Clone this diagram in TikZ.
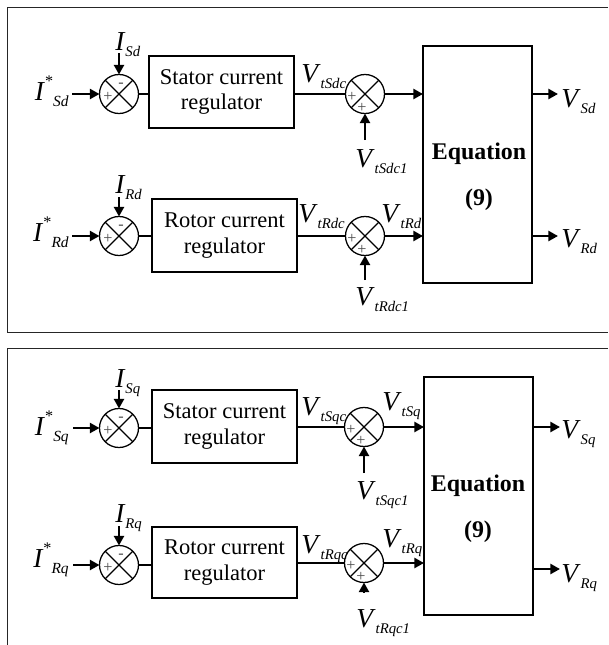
\documentclass[tikz,border=0pt]{standalone}
\usepackage{fontspec}
\setmainfont{Liberation Serif}
\usetikzlibrary{arrows.meta}
\newcommand{\sgl}[2]{\textit{#1}\raisebox{-0.25em}{\fontsize{10.5}{11}\selectfont\textit{#2}}}
\newcommand{\sgls}[2]{\textit{#1}\raisebox{0.5em}{\fontsize{11.5}{12}\selectfont *}\raisebox{-0.25em}{\fontsize{11}{12}\selectfont\textit{#2}}}

\begin{document}
\begin{tikzpicture}[
    sumj/.style={circle, draw, line width=0.9pt, minimum size=0.975cm, inner sep=0pt, outer sep=0pt},
    blk/.style={draw, line width=1pt, inner sep=0pt, outer sep=0pt, align=center, font=\fontsize{16}{18}\selectfont},
    eqtxt/.style={inner sep=0pt, align=center, font=\fontsize{17}{33}\selectfont\bfseries},
    sigarrow/.style={line width=1.6pt, -{Triangle[length=0.24cm, width=0.25cm]}},
    wire/.style={line width=0.9pt},
    lbl/.style={inner sep=0pt, font=\fontsize{19.5}{22}\selectfont},
    sgn/.style={inner sep=0pt, text=black!70, font=\fontsize{11.5}{11.5}\selectfont}]
    \useasboundingbox (0,0) rectangle (15.2,-16.125);

    % frames
    \draw[line width=0.7pt, black!85] (15.2,-0.175) -- (0.175,-0.175) -- (0.175,-8.3) -- (15.2,-8.3);
    \draw[line width=0.7pt, black!85] (15.2,-8.7) -- (0.175,-8.7) -- (0.175,-16.125);

    % d-axis
    \node[sumj] (sSd)  at (2.975,-2.35) {};
    \node[sumj] (sSd2) at (9.125,-2.35) {};
    \node[sumj] (sRd)  at (2.975,-5.9) {};
    \node[sumj] (sRd2) at (9.125,-5.9) {};
    \node[blk, minimum width=3.625cm, minimum height=1.8cm] (regSd) at (5.5375,-2.3) {Stator current\\regulator};
    \node[blk, minimum width=3.625cm, minimum height=1.825cm] (regRd) at (5.6125,-5.8875) {Rotor current\\regulator};
    \node[blk, minimum width=2.725cm, minimum height=5.925cm] (eqd) at (11.9375,-4.1125) {};
    \node[eqtxt] (eqdtxt) at (11.975,-4.4125) {Equation\\(9)};

    \node[lbl, anchor=base east] (iSdref) at (1.725,-2.5) {\sgls{I}{Sd}};
    \node[lbl, anchor=base west] (iSd) at (2.875,-1.25) {\sgl{I}{Sd}};
    \node[lbl, anchor=base west] (vSdc) at (7.525,-2.05) {\sgl{V}{tSdc}};
    \node[lbl, anchor=base west] (vSdc1) at (8.875,-4.175) {\sgl{V}{tSdc1}};
    \node[lbl, anchor=base west] (vSd) at (14.025,-2.675) {\sgl{V}{Sd}};
    \node[lbl, anchor=base east] (iRdref) at (1.725,-6.025) {\sgls{I}{Rd}};
    \node[lbl, anchor=base west] (iRd) at (2.875,-4.825) {\sgl{I}{Rd}};
    \node[lbl, anchor=base west] (vRdc) at (7.45,-5.55) {\sgl{V}{tRdc}};
    \node[lbl, anchor=base west] (vtRd) at (9.525,-5.55) {\sgl{V}{tRd}};
    \node[lbl, anchor=base west] (vRdc1) at (8.875,-7.625) {\sgl{V}{tRdc1}};
    \node[lbl, anchor=base west] (vRd) at (14.025,-6.175) {\sgl{V}{Rd}};

    \node[sgn] (sSdm)  at ([shift={(0.05,0.225)}]sSd.center) {-};
    \node[sgn] (sSdp)  at ([shift={(-0.275,-0.075)}]sSd.center) {+};
    \node[sgn] (sSd2a) at ([shift={(-0.325,-0.075)}]sSd2.center) {+};
    \node[sgn] (sSd2b) at ([shift={(-0.075,-0.35)}]sSd2.center) {+};
    \node[sgn] (sRdm)  at ([shift={(0.05,0.225)}]sRd.center) {-};
    \node[sgn] (sRdp)  at ([shift={(-0.275,-0.075)}]sRd.center) {+};
    \node[sgn] (sRd2a) at ([shift={(-0.325,-0.075)}]sRd2.center) {+};
    \node[sgn] (sRd2b) at ([shift={(-0.075,-0.35)}]sRd2.center) {+};

    \coordinate (inSd) at (1.8,-2.35);
    \coordinate (fbSd) at (2.975,-1.325);
    \coordinate (adSd) at (9.125,-3.5);
    \coordinate (outSd) at (13.95,-2.35);
    \coordinate (inRd) at (1.8,-5.9);
    \coordinate (fbRd) at (2.975,-4.925);
    \coordinate (adRd) at (9.125,-7.0);
    \coordinate (outRd) at (13.95,-5.9);

    \draw[wire] (sSd.north west) -- (sSd.south east) (sSd.north east) -- (sSd.south west);
    \draw[wire] (sSd2.north west) -- (sSd2.south east) (sSd2.north east) -- (sSd2.south west);
    \draw[wire] (sRd.north west) -- (sRd.south east) (sRd.north east) -- (sRd.south west);
    \draw[wire] (sRd2.north west) -- (sRd2.south east) (sRd2.north east) -- (sRd2.south west);

    \draw[sigarrow] (inSd) -- (sSd.west);
    \draw[sigarrow] (fbSd) -- (sSd.north);
    \draw[wire] (sSd.east) -- (sSd.east -| regSd.west);
    \draw[wire] (regSd.east |- sSd2.west) -- (sSd2.west);
    \draw[sigarrow] (sSd2.east) -- (sSd2.east -| eqd.west);
    \draw[sigarrow] (adSd) -- (sSd2.south);
    \draw[sigarrow] (outSd -| eqd.east) -- (outSd);

    \draw[sigarrow] (inRd) -- (sRd.west);
    \draw[sigarrow] (fbRd) -- (sRd.north);
    \draw[wire] (sRd.east) -- (sRd.east -| regRd.west);
    \draw[wire] (regRd.east |- sRd2.west) -- (sRd2.west);
    \draw[sigarrow] (sRd2.east) -- (sRd2.east -| eqd.west);
    \draw[sigarrow] (adRd) -- (sRd2.south);
    \draw[sigarrow] (outRd -| eqd.east) -- (outRd);

    % q-axis
    \node[sumj] (sSq)  at (2.975,-10.7) {};
    \node[sumj] (sSq2) at (9.1,-10.675) {};
    \node[sumj] (sRq)  at (2.975,-14.125) {};
    \node[sumj] (sRq2) at (9.1,-14.075) {};
    \node[blk, minimum width=3.625cm, minimum height=1.825cm] (regSq) at (5.6125,-10.6625) {Stator current\\regulator};
    \node[blk, minimum width=3.625cm, minimum height=1.775cm] (regRq) at (5.6125,-14.0625) {Rotor current\\regulator};
    \node[blk, minimum width=2.725cm, minimum height=5.95cm] (eqq) at (11.9625,-12.4) {};
    \node[eqtxt] (eqqtxt) at (11.95,-12.7125) {Equation\\(9)};

    \node[lbl, anchor=base east] (iSqref) at (1.725,-10.875) {\sgls{I}{Sq}};
    \node[lbl, anchor=base west] (iSq) at (2.875,-9.675) {\sgl{I}{Sq}};
    \node[lbl, anchor=base west] (vSqc) at (7.525,-10.375) {\sgl{V}{tSqc}};
    \node[lbl, anchor=base west] (vtSq) at (9.55,-10.25) {\sgl{V}{tSq}};
    \node[lbl, anchor=base west] (vSqc1) at (8.9,-12.475) {\sgl{V}{tSqc1}};
    \node[lbl, anchor=base west] (vSq) at (14.025,-10.95) {\sgl{V}{Sq}};
    \node[lbl, anchor=base east] (iRqref) at (1.725,-14.175) {\sgls{I}{Rq}};
    \node[lbl, anchor=base west] (iRq) at (2.875,-13.05) {\sgl{I}{Rq}};
    \node[lbl, anchor=base west] (vRqc) at (7.525,-13.825) {\sgl{V}{tRqc}};
    \node[lbl, anchor=base west] (vtRq) at (9.55,-13.675) {\sgl{V}{tRq}};
    \node[lbl, anchor=base west] (vRqc1) at (8.9,-15.675) {\sgl{V}{tRqc1}};
    \node[lbl, anchor=base west] (vRq) at (14.025,-14.55) {\sgl{V}{Rq}};

    \node[sgn] (sSqm)  at ([shift={(0.05,0.225)}]sSq.center) {-};
    \node[sgn] (sSqp)  at ([shift={(-0.275,-0.075)}]sSq.center) {+};
    \node[sgn] (sSq2a) at ([shift={(-0.325,-0.075)}]sSq2.center) {+};
    \node[sgn] (sSq2b) at ([shift={(-0.075,-0.35)}]sSq2.center) {+};
    \node[sgn] (sRqm)  at ([shift={(0.05,0.225)}]sRq.center) {-};
    \node[sgn] (sRqp)  at ([shift={(-0.275,-0.075)}]sRq.center) {+};
    \node[sgn] (sRq2a) at ([shift={(-0.325,-0.075)}]sRq2.center) {+};
    \node[sgn] (sRq2b) at ([shift={(-0.075,-0.35)}]sRq2.center) {+};

    \coordinate (inSq) at (1.825,-10.7);
    \coordinate (fbSq) at (2.975,-9.75);
    \coordinate (adSq) at (9.1,-11.825);
    \coordinate (outSq) at (14.0,-10.675);
    \coordinate (inRq) at (1.825,-14.125);
    \coordinate (fbRq) at (2.975,-13.15);
    \coordinate (adRq) at (9.1,-14.8);
    \coordinate (outRq) at (14.0,-14.225);

    \draw[wire] (sSq.north west) -- (sSq.south east) (sSq.north east) -- (sSq.south west);
    \draw[wire] (sSq2.north west) -- (sSq2.south east) (sSq2.north east) -- (sSq2.south west);
    \draw[wire] (sRq.north west) -- (sRq.south east) (sRq.north east) -- (sRq.south west);
    \draw[wire] (sRq2.north west) -- (sRq2.south east) (sRq2.north east) -- (sRq2.south west);

    \draw[sigarrow] (inSq) -- (sSq.west);
    \draw[sigarrow] (fbSq) -- (sSq.north);
    \draw[wire] (sSq.east) -- (sSq.east -| regSq.west);
    \draw[wire] (regSq.east |- sSq2.west) -- (sSq2.west);
    \draw[sigarrow] (sSq2.east) -- (sSq2.east -| eqq.west);
    \draw[sigarrow] (adSq) -- (sSq2.south);
    \draw[sigarrow] (outSq -| eqq.east) -- (outSq);

    \draw[sigarrow] (inRq) -- (sRq.west);
    \draw[sigarrow] (fbRq) -- (sRq.north);
    \draw[wire] (sRq.east) -- (sRq.east -| regRq.west);
    \draw[wire] (regRq.east |- sRq2.west) -- (sRq2.west);
    \draw[sigarrow] (sRq2.east) -- (sRq2.east -| eqq.west);
    \draw[sigarrow] (adRq) -- (sRq2.south);
    \draw[sigarrow] (outRq -| eqq.east) -- (outRq);
\end{tikzpicture}
\end{document}
